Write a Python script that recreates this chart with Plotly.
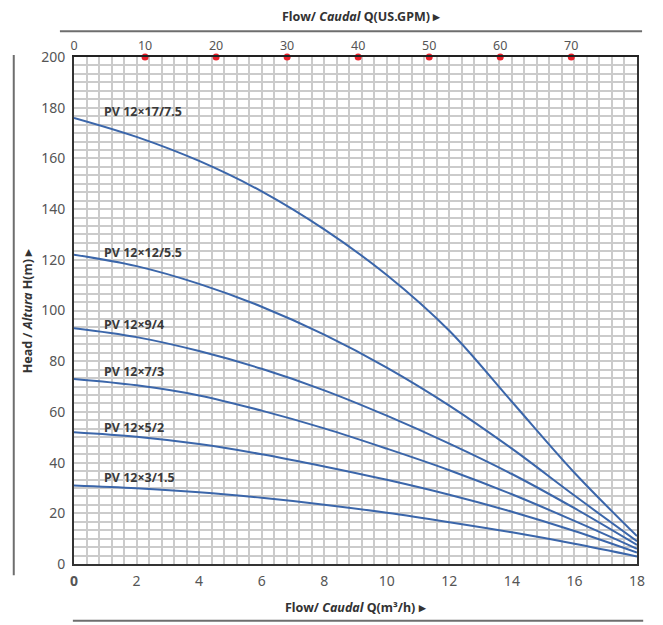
import plotly.graph_objects as go

# ---- data ----
flow_m3h = [0, 2, 4, 6, 8, 10, 12, 14, 16, 18]
h_17_75 = [176, 168.5, 159, 147, 132, 114, 92, 64, 36, 11]
h_12_55 = [122, 117.5, 110.5, 101.5, 90.5, 77.5, 62.5, 45.5, 27, 9]
h_9_4 = [93, 89.5, 84, 77, 68.5, 58.5, 47.5, 35.5, 22, 7.5]
h_7_3 = [73, 70.5, 66.5, 60.5, 53.5, 45.5, 37, 27.5, 17, 6]
h_5_2 = [52, 50.2, 47.3, 43.3, 38.5, 33.2, 27.3, 20.6, 13, 4.5]
h_3_15 = [31, 29.9, 28.3, 26.1, 23.4, 20.2, 16.5, 12.5, 8, 3]

series_names = ["PV 12×17/7.5", "PV 12×12/5.5", "PV 12×9/4", "PV 12×7/3", "PV 12×5/2", "PV 12×3/1.5"]
series_values = [h_17_75, h_12_55, h_9_4, h_7_3, h_5_2, h_3_15]
label_heights = [178.5, 122.7, 94.3, 76, 54, 34]

x_ticks = [0, 2, 4, 6, 8, 10, 12, 14, 16, 18]
y_ticks = [0, 20, 40, 60, 80, 100, 120, 140, 160, 180, 200]
gpm_ticks = [0, 10, 20, 30, 40, 50, 60, 70]
gpm_dots = [10, 20, 30, 40, 50, 60, 70]
M3H_TO_GPM = 4.4029

GRID = "#cbcbcb"
BLUE = "#3b66aa"
TICKC = "#555555"
FONT = "Noto Sans"

fig = go.Figure()
for name, vals in zip(series_names, series_values):
    fig.add_trace(go.Scatter(x=flow_m3h, y=vals, mode="lines", name=name,
                             line=dict(color=BLUE, width=2, shape="spline", smoothing=1),
                             showlegend=False, hoverinfo="skip"))

# red dots on top (GPM) axis
fig.add_trace(go.Scatter(x=gpm_dots, y=[200] * len(gpm_dots), xaxis="x2", yaxis="y",
                         mode="markers", marker=dict(color="#e8202a", size=7),
                         cliponaxis=False, showlegend=False, hoverinfo="skip"))

for name, hy in zip(series_names, label_heights):
    fig.add_annotation(x=0.9, y=hy, text="<b>" + name + "</b>", showarrow=False,
                       xanchor="left", yanchor="middle",
                       font=dict(family=FONT, size=12.5, color="#3a3a3a"))

ticktext_x = ["<b>0</b>"] + [str(v) for v in x_ticks[1:]]

# page body adds an 8px offset, so the figure is 8px smaller and margins shifted
fig.update_layout(
    width=655, height=617,
    margin=dict(l=66, r=26, t=49, b=61),
    paper_bgcolor="white", plot_bgcolor="white",
    font=dict(family=FONT, color=TICKC),
    xaxis=dict(range=[0, 18], tickvals=x_ticks, ticktext=ticktext_x,
               showgrid=True, gridcolor=GRID, gridwidth=1.5,
               minor=dict(dtick=0.4, tick0=0, showgrid=True, gridcolor=GRID, gridwidth=1.5),
               showline=True, linecolor="#333333", linewidth=2, mirror=True,
               ticks="", zeroline=False, automargin=False,
               tickfont=dict(family=FONT, size=14, color=TICKC), ticklabelstandoff=3),
    xaxis2=dict(range=[0, 18 * M3H_TO_GPM], overlaying="x", side="top",
                tickvals=gpm_ticks, showgrid=False, ticks="", zeroline=False,
                showline=True, linecolor="#222222", linewidth=2, automargin=False,
                tickfont=dict(family=FONT, size=12.5, color=TICKC)),
    yaxis=dict(range=[0, 200], tickvals=y_ticks,
               showgrid=True, gridcolor=GRID, gridwidth=1.5,
               minor=dict(dtick=20 / 6, tick0=0, showgrid=True, gridcolor=GRID, gridwidth=1.5),
               showline=True, linecolor="#333333", linewidth=2, mirror=True,
               ticks="", zeroline=False, automargin=False,
               tickfont=dict(family=FONT, size=14, color=TICKC), ticklabelstandoff=4),
)

# axis titles as annotations (paper coords: plot spans 563 x 507 px)
fig.add_annotation(xref="paper", yref="paper", x=0.51, y=1.079, xanchor="center",
                   yanchor="middle", showarrow=False,
                   text="<b>Flow/ <i>Caudal</i> Q(US.GPM) ▸</b>",
                   font=dict(family=FONT, size=12.5, color="#333333"))
fig.add_annotation(xref="paper", yref="paper", x=0.5, y=-0.085, xanchor="center",
                   yanchor="middle", showarrow=False,
                   text="<b>Flow/ <i>Caudal</i> Q(m³/h) ▸</b>",
                   font=dict(family=FONT, size=12.5, color="#333333"))
fig.add_annotation(xref="paper", yref="paper", x=-0.082, y=0.5, xanchor="center",
                   yanchor="middle", showarrow=False, textangle=-90,
                   text="<b>Head / <i>Altura</i> H(m) ▸</b>",
                   font=dict(family=FONT, size=12.5, color="#333333"))

# decorative rules
fig.add_shape(type="line", xref="paper", yref="paper", x0=-0.025, x1=1.009, y0=1.051, y1=1.051,
              line=dict(color="#6e6e6e", width=2))
fig.add_shape(type="line", xref="paper", yref="paper", x0=-0.002, x1=1.011, y0=-0.112, y1=-0.112,
              line=dict(color="#6e6e6e", width=2))
fig.add_shape(type="line", xref="paper", yref="paper", x0=-0.107, x1=-0.107, y0=1.004, y1=-0.022,
              line=dict(color="#6e6e6e", width=2))

fig.write_html("out.html")
